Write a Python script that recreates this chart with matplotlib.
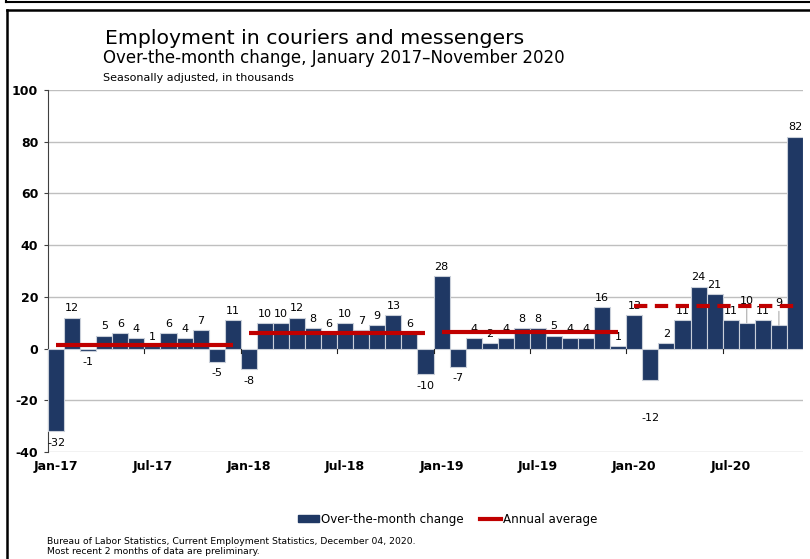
import matplotlib
matplotlib.use("Agg")
import matplotlib.pyplot as plt
from matplotlib.lines import Line2D
from matplotlib.patches import Patch
import numpy as np

months = [f"{m}-{y}" for y in ["17", "18", "19", "20"]
          for m in ["Jan", "Feb", "Mar", "Apr", "May", "Jun",
                    "Jul", "Aug", "Sep", "Oct", "Nov", "Dec"]][:47]
changes = [-32, 12, -1, 5, 6, 4, 1, 6, 4, 7, -5, 11,
           -8, 10, 10, 12, 8, 6, 10, 7, 9, 13, 6, -10,
           28, -7, 4, 2, 4, 8, 8, 5, 4, 4, 16, 1,
           13, -12, 2, 11, 24, 21, 11, 10, 11, 9, 82]
avg_years = ["2017", "2018", "2019", "2020"]
avg_values = [1.5, 6.1, 6.4, 16.5]
avg_start = [0, 12, 24, 36]
avg_end = [11, 23, 35, 46]
tick_labels = ["Jan-17", "Jul-17", "Jan-18", "Jul-18", "Jan-19", "Jul-19", "Jan-20", "Jul-20"]
y_ticks = [-40, -20, 0, 20, 40, 60, 80, 100]

FONT = "DejaVu Sans"
plt.rcParams['font.family'] = [FONT]

W, H = 810, 559
fig = plt.figure(figsize=(W / 100, H / 100), dpi=100)
ax = fig.add_axes([48 / W, 1 - 452 / H, (803 - 48) / W, (452 - 90) / H])

x = np.arange(len(changes))
navy = "#1F3864"
red = "#C00000"
ax.bar(x, changes, width=1.0, color=navy, edgecolor="#C9CFD9", linewidth=0.8, zorder=3)

for i, (s, e, v) in enumerate(zip(avg_start, avg_end, avg_values)):
    if i < 3:
        ax.plot([s, e], [v, v], color=red, lw=3.0, solid_capstyle="butt", zorder=4)
    else:
        ax.plot([s, e], [v, v], color=red, lw=3.0, dashes=(3.2, 1.8), zorder=4)

ax.set_xlim(-0.5, len(changes) - 0.5)
ax.set_ylim(-40, 100)
ax.set_yticks(y_ticks)
ax.set_yticklabels([str(v) for v in y_ticks], fontsize=9, fontweight="bold")
for v in y_ticks:
    if v != 0:
        ax.axhline(v, color="#BFBFBF", lw=1.0, zorder=1)

for sp in ["top", "right", "bottom"]:
    ax.spines[sp].set_visible(False)
ax.spines["left"].set_color("#404040")
ax.spines["left"].set_linewidth(0.8)
ax.tick_params(axis="y", length=3, width=0.8, color="#404040", pad=4)

tick_pos = [months.index(t) for t in tick_labels]
ax.set_xticks(tick_pos)
ax.set_xticklabels(tick_labels, fontsize=9, fontweight="bold")
ax.tick_params(axis="x", length=0, pad=6)

# small ticks on the zero line every six months
for k in range(6, len(changes), 6):
    ax.plot([k - 0.5, k - 0.5], [0, -1.6], color="#222222", lw=0.8, zorder=5)

# value labels
special = {43: 6.5, 45: 6.5}
for i, v in enumerate(changes):
    if i in special:
        ax.annotate(str(v), (i, v), xytext=(i, v + special[i]), textcoords="data",
                    ha="center", va="bottom", fontsize=8,
                    arrowprops=dict(arrowstyle="-", color="#A0A0A0", lw=0.7,
                                    shrinkA=0, shrinkB=0))
    elif v == -12:
        ax.annotate(str(v), (i, v), xytext=(0, -24), textcoords="offset points",
                    ha="center", va="top", fontsize=8)
    elif v >= 0:
        ax.annotate(str(v), (i, v), xytext=(0, 3), textcoords="offset points",
                    ha="center", va="bottom", fontsize=8)
    else:
        ax.annotate(str(v), (i, v), xytext=(0, -4.5), textcoords="offset points",
                    ha="center", va="top", fontsize=8)

# titles
fig.text(105 / W, 1 - 38 / H, "Employment in couriers and messengers", fontsize=14.7,
         va="center", ha="left")
fig.text(103 / W, 1 - 58 / H, "Over-the-month change, January 2017\u2013November 2020",
         fontsize=12, va="center", ha="left")
fig.text(103 / W, 1 - 78 / H, "Seasonally adjusted, in thousands", fontsize=8,
         va="center", ha="left")

# legend
handles = [Patch(facecolor=navy, edgecolor=navy),
           Line2D([0], [0], color=red, lw=3)]
fig.legend(handles, ["Over-the-month change", "Annual average"],
           loc="center", bbox_to_anchor=(448 / W, 1 - 519 / H), ncol=2, frameon=False,
           fontsize=8.6, handlelength=1.7, handleheight=0.5, handletextpad=0.2,
           columnspacing=1.4)

fig.text(47 / W, 1 - 541 / H, "Bureau of Labor Statistics, Current Employment Statistics, December 04, 2020.",
         fontsize=6.7, va="center", ha="left")
fig.text(47 / W, 1 - 552 / H, "Most recent 2 months of data are preliminary.",
         fontsize=6.7, va="center", ha="left")

# outer frame lines
fig.add_artist(Line2D([7 / W, 1], [1 - 9.5 / H, 1 - 9.5 / H], color="black", lw=1.8,
                      transform=fig.transFigure))
fig.add_artist(Line2D([7 / W, 7 / W], [0, 1 - 9.5 / H], color="black", lw=1.8,
                      transform=fig.transFigure))
fig.add_artist(Line2D([6 / W, 1], [1 - 2 / H, 1 - 2 / H], color="black", lw=1.5,
                      transform=fig.transFigure))
fig.add_artist(Line2D([6 / W, 6 / W], [1 - 2 / H, 1], color="black", lw=1.5,
                      transform=fig.transFigure))

fig.savefig("out.png", dpi=100)
